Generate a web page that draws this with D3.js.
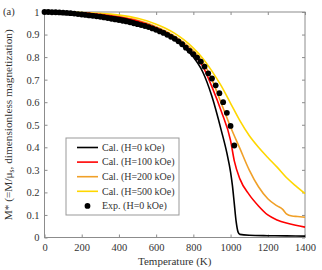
<!DOCTYPE html>
<html>
<head>
<meta charset="utf-8">
<script src="https://cdn.jsdelivr.net/npm/d3@7"></script>
<style>
  body { margin: 0; background: #fff; }
</style>
</head>
<body>
<svg id="chart-svg" width="322" height="270"></svg>
<script>
// experimental points (H=0 kOe)
const expT = [0,20,40,60,80,100,120,140,160,180,200,220,240,260,280,300,320,340,360,380,400,
  420,440,460,480,500,520,540,560,580,600,620,640,660,680,700,720,740,760,780,800,820,840,860,
  880,900,920,940,960,980,1000,1020];
const expM = [1.000,1.000,0.999,0.999,0.998,0.997,0.996,0.995,0.993,0.991,0.989,0.987,0.985,0.983,
  0.981,0.979,0.976,0.973,0.970,0.967,0.964,0.961,0.958,0.954,0.950,0.946,0.942,0.938,0.933,0.927,
  0.921,0.914,0.907,0.899,0.890,0.881,0.870,0.857,0.842,0.828,0.813,0.798,0.780,0.758,0.728,0.705,
  0.675,0.640,0.600,0.553,0.495,0.408];

// calculated curves
const cal0T = [0,100,200,300,400,500,600,650,700,750,800,850,900,950,980,1000,1010,1020,1030,1040,1050,1100,1200,1300,1400];
const cal0M = [1.000,0.999,0.995,0.987,0.975,0.955,0.922,0.902,0.876,0.843,0.800,0.735,0.625,0.475,0.375,0.290,0.230,0.150,0.070,0.025,0.014,0.010,0.008,0.007,0.006];

const cal100T = [0,100,200,300,400,500,600,700,800,850,900,950,1000,1020,1050,1100,1150,1200,1250,1300,1350,1400];
const cal100M = [1.000,0.999,0.996,0.989,0.978,0.960,0.930,0.886,0.815,0.760,0.668,0.560,0.430,0.340,0.260,0.190,0.140,0.100,0.078,0.064,0.054,0.046];

const cal200T = [0,100,200,300,400,500,600,700,800,850,900,950,1000,1050,1100,1150,1200,1250,1280,1300,1330,1360,1400];
const cal200M = [1.000,0.999,0.996,0.990,0.980,0.963,0.935,0.893,0.828,0.780,0.700,0.595,0.490,0.395,0.300,0.225,0.172,0.140,0.125,0.105,0.095,0.093,0.090];

const cal500T = [0,100,200,300,400,500,600,650,700,750,800,850,900,950,1000,1050,1100,1150,1200,1250,1300,1350,1400];
const cal500M = [1.000,1.000,0.998,0.994,0.986,0.972,0.946,0.928,0.905,0.876,0.840,0.795,0.738,0.672,0.595,0.518,0.452,0.400,0.355,0.312,0.266,0.229,0.195];

const seriesNames = ["Cal. (H=0 kOe)","Cal. (H=100 kOe)","Cal. (H=200 kOe)","Cal. (H=500 kOe)"];
const expName = "Exp. (H=0 kOe)";
const colors = ["#000000","#ff0000","#f0a028","#ffd700"];
const xTicks = [0,200,400,600,800,1000,1200,1400];
const yTicks = [0,0.1,0.2,0.3,0.4,0.5,0.6,0.7,0.8,0.9,1];

const margin = { left: 44.5, right: 17, top: 12, bottom: 32.5 };
const width = 322, height = 270;
const svg = d3.select("#chart-svg");
const serif = "'Liberation Serif', 'Times New Roman', serif";

const x = d3.scaleLinear().domain([0,1400]).range([margin.left, width - margin.right]);
const y = d3.scaleLinear().domain([0,1]).range([height - margin.bottom, margin.top]);

const frame = "#8c8c8c";

// frame
svg.append("rect")
  .attr("x", x(0)).attr("y", y(1))
  .attr("width", x(1400) - x(0)).attr("height", y(0) - y(1))
  .attr("fill", "none").attr("stroke", frame).attr("stroke-width", 1);

const styleAxis = g => {
  g.select(".domain").remove();
  g.selectAll(".tick line").attr("stroke", frame);
  g.selectAll(".tick text").attr("fill", "#333").style("font-size", "10.5px")
    .style("font-family", serif);
};

svg.append("g").attr("transform", `translate(0,${y(0)})`)
  .call(d3.axisBottom(x).tickValues(xTicks).tickSizeInner(-3).tickPadding(6).tickFormat(d3.format("d")))
  .call(styleAxis);
svg.append("g").attr("transform", `translate(0,${y(1)})`)
  .call(d3.axisTop(x).tickValues(xTicks).tickSizeInner(-3).tickFormat(""))
  .call(styleAxis);
svg.append("g").attr("transform", `translate(${x(0)},0)`)
  .call(d3.axisLeft(y).tickValues(yTicks).tickSizeInner(-3).tickPadding(5).tickFormat(d => d === 0 || d === 1 ? d3.format("d")(d) : d3.format(".1f")(d)))
  .call(styleAxis);
svg.append("g").attr("transform", `translate(${x(1400)},0)`)
  .call(d3.axisRight(y).tickValues(yTicks).tickSizeInner(-3).tickFormat(""))
  .call(styleAxis);

// curves
const plot = svg.append("g");
const line = d3.line().x(d => x(d[0])).y(d => y(d[1])).curve(d3.curveMonotoneX);
const calData = [
  d3.zip(cal0T, cal0M), d3.zip(cal100T, cal100M),
  d3.zip(cal200T, cal200M), d3.zip(cal500T, cal500M)
];
// draw yellow first so black sits on top
[3,2,1,0].forEach(i => {
  plot.append("path").datum(calData[i])
    .attr("d", line).attr("fill", "none")
    .attr("stroke", colors[i]).attr("stroke-width", 1.6);
});

plot.selectAll("circle.exp").data(d3.zip(expT, expM)).join("circle")
  .attr("class", "exp")
  .attr("cx", d => x(d[0])).attr("cy", d => y(d[1]))
  .attr("r", 2.9).attr("fill", "#000");

// legend
const legend = svg.append("g").attr("transform", "translate(66,138)");
legend.append("rect").attr("width", 113).attr("height", 77)
  .attr("fill", "#fff").attr("stroke", "#999").attr("stroke-width", 1);
seriesNames.forEach((name, i) => {
  const gy = 9.5 + i * 14.6;
  legend.append("line").attr("x1", 11).attr("x2", 32).attr("y1", gy).attr("y2", gy)
    .attr("stroke", colors[i]).attr("stroke-width", 1.6);
  legend.append("text").attr("x", 36).attr("y", gy + 3.2)
    .style("font-size", "10px").style("font-family", serif).attr("fill", "#333").text(name);
});
legend.append("circle").attr("cx", 21.5).attr("cy", 9.5 + 4 * 14.6).attr("r", 2.9).attr("fill", "#000");
legend.append("text").attr("x", 36).attr("y", 9.5 + 4 * 14.6 + 3.2)
  .style("font-size", "10px").style("font-family", serif).attr("fill", "#333").text(expName);

// axis titles
svg.append("text").attr("x", x(700)).attr("y", 265).attr("text-anchor", "middle")
  .style("font-size", "11px").style("font-family", serif).attr("fill", "#333").text("Temperature (K)");

const yl = svg.append("text")
  .attr("transform", `translate(12,${(y(0) + y(1)) / 2}) rotate(-90)`)
  .attr("text-anchor", "middle").style("font-size", "11.3px").style("font-family", serif).attr("fill", "#333");
yl.append("tspan").text("M* (=M/μ");
yl.append("tspan").attr("dy", 2).style("font-size", "7.5px").text("s");
yl.append("tspan").attr("dy", -2).text(", dimensionless magnetization)");

svg.append("text").attr("x", 3).attr("y", 15).style("font-size", "10.5px").style("font-family", serif).attr("fill", "#333").text("(a)");
</script>
</body>
</html>
